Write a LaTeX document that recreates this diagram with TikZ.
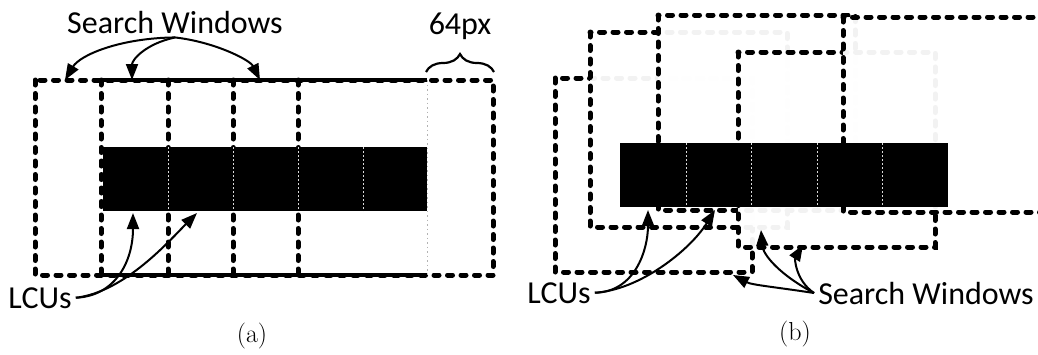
\documentclass[tikz,border=0pt]{standalone}
\usepackage{fontspec}
\newfontfamily\calibrifont{Carlito}
\usepackage{tikz}
\usetikzlibrary{arrows.meta, decorations.pathreplacing}

\begin{document}
\begin{tikzpicture}[
    x=1pt, y=-1pt,
    every node/.style={font=\calibrifont\fontsize{32}{36}\selectfont, inner sep=4pt},
    winedge/.style={line width=5pt, line cap=round, dash pattern=on 5pt off 8.5pt},
    swin/.style={winedge, draw=black, fill=white, fill opacity=0.95},
    faintedge/.style={draw=gray!60, line width=1pt, dash pattern=on 1.5pt off 3pt},
    lcuedge/.style={draw=gray!30, line width=0.6pt, dash pattern=on 2pt off 2pt},
    pointer/.style={line width=2pt, -{Triangle[length=16pt, width=12pt]}},
    caption/.style={font=\fontsize{26}{30}\selectfont}
]
    \clip (0,0) rectangle (1038,354);

    % (a) search windows in a row
    \draw[winedge] (35,80) rectangle (493,275);
    \foreach \x in {101,168,233,298}
        \draw[winedge] (\x,80) -- (\x,275);
    \draw[line width=4.5pt] (101,80) -- (427,80) (101,275) -- (427,275);
    \draw[faintedge] (427,80) -- (427,275);

    % (a) LCUs
    \fill (103,147) rectangle (427,211);
    \foreach \x in {168,233,298,363}
        \draw[lcuedge] (\x,147) -- (\x,211);

    % (a) 64px margin
    \draw[line width=2.2pt, decorate, decoration={brace, amplitude=18pt}] (426,72) -- (494,72);
    \node[anchor=base] (px) at (460,34) {64px};

    % (a) labels and pointers
    \node[anchor=base] (swa) at (175,33) {Search Windows};
    \coordinate (swa-1) at (65,80);
    \coordinate (swa-2) at (132,80);
    \coordinate (swa-3) at (260,80);
    \draw[pointer] (swa.south) .. controls (120,38) and (80,55) .. (swa-1);
    \draw[pointer] (swa.south) .. controls (145,44) and (132,60) .. (swa-2);
    \draw[pointer] (swa.south) .. controls (215,42) and (250,60) .. (swa-3);

    \node[anchor=base] (lcua) at (40,308) {LCUs};
    \coordinate (lcua-1) at (133,213);
    \coordinate (lcua-2) at (197,213);
    \draw[pointer] (lcua.east) .. controls (115,296) and (133,262) .. (lcua-1);
    \draw[pointer] (lcua.east) .. controls (125,292) and (170,240) .. (lcua-2);

    \node[caption] (capa) at (252,336) {(a)};

    % (b) shifted search windows
    \draw[swin] (555,78) rectangle (752,272);
    \draw[swin] (590,32) rectangle (787,227);
    \draw[swin] (658,15) rectangle (855,210);
    \draw[swin] (738,52) rectangle (935,247);
    \draw[swin] (843,17) rectangle (1040,212);

    % (b) LCUs
    \fill (620,143) rectangle (948,207);
    \foreach \x in {686,751,817,882}
        \draw[lcuedge] (\x,143) -- (\x,207);

    % (b) labels and pointers
    \node[anchor=base] (lcub) at (559,303) {LCUs};
    \coordinate (lcub-1) at (648,210);
    \coordinate (lcub-2) at (715,210);
    \draw[pointer] (lcub.east) .. controls (635,292) and (648,250) .. (lcub-1);
    \draw[pointer] (lcub.east) .. controls (640,290) and (690,250) .. (lcub-2);

    \node[anchor=base] (swb) at (926,304) {Search Windows};
    \coordinate (swb-1) at (733,275);
    \coordinate (swb-2) at (761,230);
    \coordinate (swb-3) at (803,245);
    \draw[pointer] (swb.west) .. controls (775,287) and (752,285) .. (swb-1);
    \draw[pointer] (swb.west) .. controls (780,275) and (763,255) .. (swb-2);
    \draw[pointer] (swb.west) .. controls (795,280) and (795,258) .. (swb-3);

    \node[caption] (capb) at (795,334) {(b)};
\end{tikzpicture}
\end{document}
